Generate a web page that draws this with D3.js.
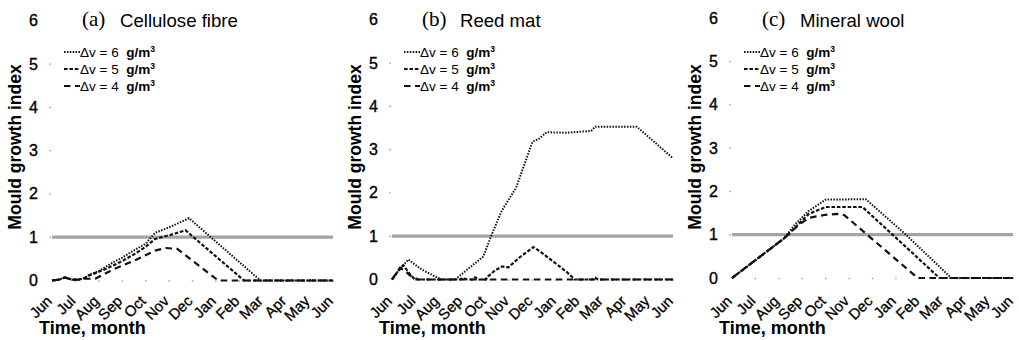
<!DOCTYPE html>
<html>
<head>
<meta charset="utf-8">
<script src="https://cdn.jsdelivr.net/npm/d3@7"></script>
<style>
  html, body { margin: 0; padding: 0; background: #fff; }
  svg { display: block; }
  text { fill: #000; }
</style>
</head>
<body>
<svg id="chart" width="1019" height="340"></svg>
<script>
// Month labels along the x axis (one year, June to June)
const monthLabels = ["Jun","Jul","Aug","Sep","Oct","Nov","Dec","Jan","Feb","Mar","Apr","May","Jun"];
const yTicks = [0, 1, 2, 3, 4, 5, 6];
const threshold = 1;

// Panel titles
const panelLetters = ["(a)", "(b)", "(c)"];
const panelNames = ["Cellulose fibre", "Reed mat", "Mineral wool"];

// Legend entries (vapour excess Δv)
const seriesLabels = ["Δv = 6", "Δv = 5", "Δv = 4"];

// Mould growth index, [month offset from June, index]
// (a) Cellulose fibre
const cellulose6 = [[0,0],[0.3,0.02],[0.55,0.07],[0.85,0.02],[1.15,0.02],[1.4,0.06],[1.6,0.14],[2.0,0.22],[2.55,0.4],[3.0,0.53],[3.55,0.71],[4.0,0.85],[4.4,1.1],[5.1,1.25],[5.85,1.44],[8.9,0],[12,0]];
const cellulose5 = [[0,0],[0.3,0.02],[0.55,0.07],[0.85,0.02],[1.15,0.02],[1.4,0.06],[1.6,0.12],[2.0,0.2],[2.55,0.33],[3.0,0.45],[3.55,0.62],[4.0,0.78],[4.4,0.96],[5.1,1.06],[5.7,1.16],[8.2,0],[12,0]];
const cellulose4 = [[0,0],[0.3,0.02],[0.55,0.07],[0.85,0.02],[1.15,0.02],[1.4,0.04],[1.85,0.04],[2.55,0.24],[3.55,0.47],[4.4,0.69],[4.85,0.75],[5.35,0.73],[7.1,0],[12,0]];
// (b) Reed mat
const reed6 = [[0,0],[0.3,0.22],[0.7,0.46],[1.27,0.23],[1.84,0.07],[2.12,0],[2.7,0],[3.26,0.25],[3.9,0.53],[4.23,1.0],[4.69,1.59],[5.3,2.12],[6.0,3.18],[6.3,3.26],[6.6,3.4],[7.45,3.39],[8.5,3.43],[8.68,3.53],[10.45,3.53],[12,2.8]];
const reed5 = [[0,0],[0.2,0.15],[0.48,0.33],[0.77,0.12],[0.98,0],[2.9,0],[3.05,0.04],[3.2,0],[3.45,0],[3.55,0.05],[3.7,0],[4.0,0],[4.1,0.07],[4.4,0.21],[4.7,0.3],[4.97,0.28],[5.47,0.52],[6.04,0.75],[6.32,0.65],[7.45,0.18],[7.8,0],[8.55,0],[8.68,0.04],[8.8,0],[12,0]];
const reed4 = [[0,0],[0.34,0.27],[0.6,0.18],[0.75,0.1],[1.1,0],[4.0,0],[4.1,0.06],[4.2,0],[12,0]];
// (c) Mineral wool
const wool6 = [[0,0],[2.21,0.91],[2.71,1.25],[3.28,1.55],[4.0,1.81],[5.71,1.82],[7.43,1.0],[9.36,0],[12,0]];
const wool5 = [[0,0],[2.21,0.91],[2.57,1.1],[3.28,1.48],[4.0,1.64],[5.57,1.64],[6.86,1.0],[8.86,0],[12,0]];
const wool4 = [[0,0],[2.21,0.91],[2.84,1.22],[3.28,1.39],[4.0,1.46],[4.5,1.48],[4.8,1.45],[7.93,0],[12,0]];

const panelSeries = [
  [cellulose6, cellulose5, cellulose4],
  [reed6, reed5, reed4],
  [wool6, wool5, wool4]
];

// Line styles: dotted, short dash, long dash
const styles = [
  { dash: "1.5,1.4", width: 2.0 },
  { dash: "3.6,1.8", width: 2.2 },
  { dash: "6.5,4.5", width: 2.2 }
];

const svg = d3.select("#chart");
const panelLeft = [0, 340, 680];
const zeroY = [280.5, 279.5, 278];
const unit = 43.3;
const sans = "'Liberation Sans', Arial, sans-serif";

panelSeries.forEach((seriesSet, p) => {
  const ox = panelLeft[p];
  const g = svg.append("g").attr("transform", `translate(${ox},0)`);

  const x = d3.scaleLinear().domain([0, 12]).range([52, 333]);
  const y = d3.scaleLinear().domain([0, 6]).range([zeroY[p], zeroY[p] - 6 * unit]);

  // y tick labels and small tick dots
  g.selectAll(".ytl").data(yTicks).join("text")
    .attr("x", 38).attr("y", d => y(d) + 5.5)
    .attr("text-anchor", "end")
    .style("font", `16px ${sans}`)
    .attr("stroke", "#000").attr("stroke-width", 0.35)
    .text(d => d);
  g.selectAll(".ytd").data(yTicks.filter(d => d > 0 && d < 6)).join("rect")
    .attr("x", 49.5).attr("y", d => y(d) - 0.6).attr("width", 1.4).attr("height", 1.4)
    .attr("fill", "#999");

  // x tick dots
  g.selectAll(".xtd").data(d3.range(1, 13)).join("rect")
    .attr("x", d => x(d) - 0.7).attr("y", y(0) - 0.2).attr("width", 1.4).attr("height", 1.4)
    .attr("fill", "#999");

  // threshold line at index 1
  g.append("line")
    .attr("x1", x(0)).attr("x2", x(12))
    .attr("y1", y(threshold)).attr("y2", y(threshold))
    .attr("stroke", "#a3a3a3").attr("stroke-width", 3.2);

  // series lines
  const line = d3.line().x(d => x(d[0])).y(d => y(d[1]));
  seriesSet.forEach((data, i) => {
    g.append("path")
      .attr("d", line(data))
      .attr("fill", "none")
      .attr("stroke", "#111")
      .attr("stroke-width", styles[i].width)
      .attr("stroke-dasharray", styles[i].dash);
  });

  // month tick labels, rotated
  g.selectAll(".xtl").data(monthLabels).join("text")
    .attr("transform", (d, i) => `translate(${x(i) + 1},${302}) rotate(-45)`)
    .attr("text-anchor", "end")
    .style("font", `15px ${sans}`)
    .attr("stroke", "#000").attr("stroke-width", 0.3)
    .text(d => d);

  // titles
  g.append("text").attr("x", 82).attr("y", 26)
    .style("font", "21px 'Liberation Serif', 'Times New Roman', serif")
    .text(panelLetters[p]);
  g.append("text").attr("x", 120).attr("y", 27)
    .style("font", `18.6px ${sans}`)
    .text(panelNames[p]);

  // legend
  const rows = [52, 69, 86];
  seriesLabels.forEach((lab, i) => {
    g.append("line")
      .attr("x1", 64).attr("x2", 80).attr("y1", rows[i]).attr("y2", rows[i])
      .attr("stroke", "#111")
      .attr("stroke-width", styles[i].width)
      .attr("stroke-dasharray", styles[i].dash);
    const t = g.append("text").attr("x", 80).attr("y", rows[i] + 5)
      .style("font", `13.5px ${sans}`)
      .style("white-space", "pre");
    t.append("tspan").text(lab + "  ");
    t.append("tspan").style("font-weight", "bold").text("g/m");
    t.append("tspan").style("font-weight", "bold").style("font-size", "8.5px")
      .attr("dy", -5).text("3");
  });

  // axis titles
  g.append("text")
    .attr("transform", "translate(21,147) rotate(-90)")
    .attr("text-anchor", "middle")
    .style("font", `bold 17.5px ${sans}`)
    .text("Mould growth index");
  g.append("text").attr("x", 39).attr("y", 334)
    .style("font", `bold 18px ${sans}`)
    .text("Time, month");
});
</script>
</body>
</html>
